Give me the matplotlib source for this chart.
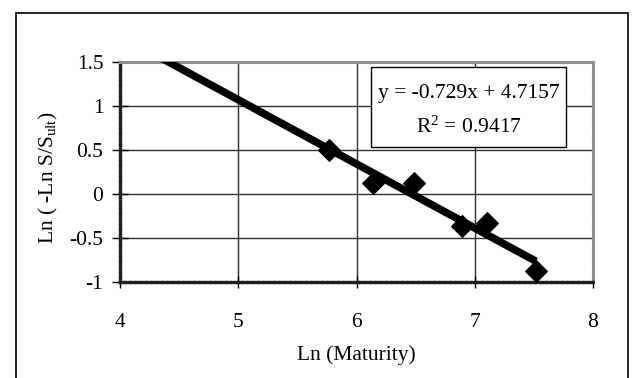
import matplotlib
matplotlib.use("Agg")
import matplotlib.pyplot as plt
from matplotlib.patches import Rectangle
import numpy as np

plt.rcParams['font.family'] = ['Liberation Serif', 'DejaVu Serif']
plt.rcParams['mathtext.fontset'] = 'custom'
plt.rcParams['mathtext.rm'] = 'Liberation Serif'
plt.rcParams['mathtext.it'] = 'Liberation Serif'

# Data
ln_maturity = [5.767, 6.142, 6.486, 6.889, 7.101, 7.518]
ln_ratio = [0.50, 0.121, 0.129, -0.360, -0.326, -0.871]
slope = -0.729
intercept = 4.7157
r2 = 0.9417
x_ticks = [4, 5, 6, 7, 8]
y_ticks = [-1, -0.5, 0, 0.5, 1, 1.5]
y_tick_labels = ['-1', '-0.5', '0', '0.5', '1', '1.5']

FS = 15.5
W, H = 637, 378
fig = plt.figure(figsize=(W/100, H/100), dpi=100)
fig.patch.set_facecolor('white')

# outer chart border
fig.add_artist(Rectangle((16/W, -0.05), (628-16)/W, (H-13)/H + 0.05,
                         transform=fig.transFigure, fill=False,
                         edgecolor='black', linewidth=1.2))

l, r, t, b = 120, 593, 62, 282
ax = fig.add_axes([l/W, 1-b/H, (r-l)/W, (b-t)/H])
ax.set_xlim(4, 8)
ax.set_ylim(-1, 1.5)
ax.set_xticks(x_ticks)
ax.set_yticks(y_ticks)
ax.set_yticklabels(y_tick_labels)
ax.grid(True, color='#303030', linewidth=1.0)
ax.set_axisbelow(True)

for s in ['top', 'right']:
    ax.spines[s].set_color('#909090')
    ax.spines[s].set_linewidth(2.2)
    ax.spines[s].set_linestyle((0, (1, 0.6)))
for s in ['left', 'bottom']:
    ax.spines[s].set_color('#202020')
    ax.spines[s].set_linewidth(2.4)
    ax.spines[s].set_linestyle((0, (1, 0.6)))

ax.tick_params(axis='x', direction='inout', length=8, width=1, labelsize=FS, pad=18)
ax.tick_params(axis='y', direction='inout', length=12, width=1, labelsize=FS, pad=6)

# trendline
xs = np.array([4.0, max(ln_maturity)])
ax.plot(xs, slope*xs + intercept, color='black', linewidth=5.5, solid_capstyle='butt', zorder=3)
ax.scatter(ln_maturity, ln_ratio, marker='D', s=120, color='black', zorder=4, clip_on=False)

ax.set_xlabel('Ln (Maturity)', fontsize=FS, labelpad=10)
ax.set_ylabel(r'Ln ( -Ln S/S$_{\mathrm{ult}}$)', fontsize=FS, labelpad=6)
ax.yaxis.set_label_coords(-(120-60)/(r-l), 0.473)

# equation box
ax.add_patch(Rectangle((0.5307, 0.6136), 0.943-0.5307, 0.977-0.6136,
                       transform=ax.transAxes, facecolor='white',
                       edgecolor='black', linewidth=1, zorder=5))
ax.text(0.737, 0.859, 'y = -0.729x + 4.7157', transform=ax.transAxes,
        ha='center', va='center', fontsize=FS, zorder=6)
ax.text(0.737, 0.7045, r'R$^{2}$' + ' = 0.9417', transform=ax.transAxes,
        ha='center', va='center', fontsize=FS, zorder=6)

fig.savefig('out.png', dpi=100, facecolor='white')
